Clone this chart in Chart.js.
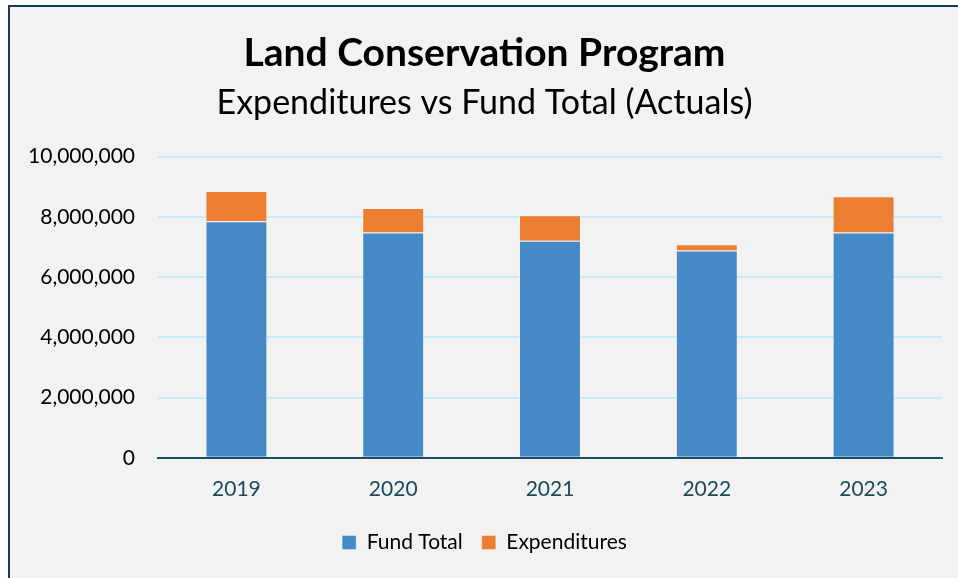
<!DOCTYPE html>
<html>
<head>
<meta charset="utf-8">
<script src="https://cdn.jsdelivr.net/npm/chart.js@4/dist/chart.umd.min.js"></script>
<style>
  html, body { margin: 0; padding: 0; background: #ffffff; overflow: hidden; }
  #frame {
    position: absolute; left: 8px; top: 5px;
    width: 962px; height: 600px;
    border-left: 2px solid #123f52; border-top: 2px solid #123f52;
    background: #f2f2f2;
  }
  #box { position: absolute; left: 0; top: 0; width: 962px; height: 571px; }
</style>
</head>
<body>
<div id="frame"><div id="box"><canvas id="landChart"></canvas></div></div>
<script>
// values
var years = ['2019', '2020', '2021', '2022', '2023'];
var fundTotal = [7850000, 7480000, 7210000, 6880000, 7480000];
var expenditures = [1010000, 810000, 840000, 210000, 1200000];

var titleText = 'Land Conservation Program';
var subtitleText = 'Expenditures vs Fund Total (Actuals)';

var fontName = 'Lato';

var configLand = {
  type: 'bar',
  data: {
    labels: years,
    datasets: [
      {
        label: 'Fund Total',
        data: fundTotal,
        backgroundColor: '#458ac6',
        borderColor: 'rgba(255,255,255,0.35)',
        borderWidth: 1
      },
      {
        label: 'Expenditures',
        data: expenditures,
        backgroundColor: '#ed7d31',
        borderColor: 'rgba(255,255,255,0.35)',
        borderWidth: 1
      }
    ]
  },
  options: {
    responsive: true,
    maintainAspectRatio: false,
    animation: false,
    layout: { padding: { left: 17, right: 30, top: 0, bottom: 15 } },
    datasets: { bar: { categoryPercentage: 1, barPercentage: 0.395 } },
    plugins: {
      title: {
        display: true,
        text: titleText,
        color: '#000000',
        font: { family: fontName, size: 39, weight: 'bold' },
        padding: { top: 23, bottom: 0 }
      },
      subtitle: {
        display: true,
        text: subtitleText,
        color: '#000000',
        font: { family: fontName, size: 34, weight: 'normal' },
        padding: { top: 6, bottom: 33 }
      },
      legend: {
        position: 'bottom',
        labels: {
          color: '#000000',
          font: { family: fontName, size: 21 },
          boxWidth: 14,
          boxHeight: 14,
          padding: 19
        }
      },
      tooltip: { enabled: false }
    },
    scales: {
      x: {
        stacked: true,
        grid: { display: false },
        border: { display: true, color: '#1d4d62', width: 2 },
        ticks: {
          color: '#1b4a5e',
          font: { family: fontName, size: 21 },
          padding: 11
        }
      },
      y: {
        stacked: true,
        min: 0,
        max: 10000000,
        grid: { color: '#c4ecfa', lineWidth: 2, drawTicks: false },
        border: { display: false },
        afterFit: function (scale) { scale.width = 131; },
        ticks: {
          stepSize: 2000000,
          color: '#000000',
          font: { family: fontName, size: 21 },
          padding: 23,
          callback: function (v) { return v.toLocaleString('en-US'); }
        }
      }
    }
  }
};

new Chart(document.getElementById('landChart'), configLand);
</script>
</body>
</html>
